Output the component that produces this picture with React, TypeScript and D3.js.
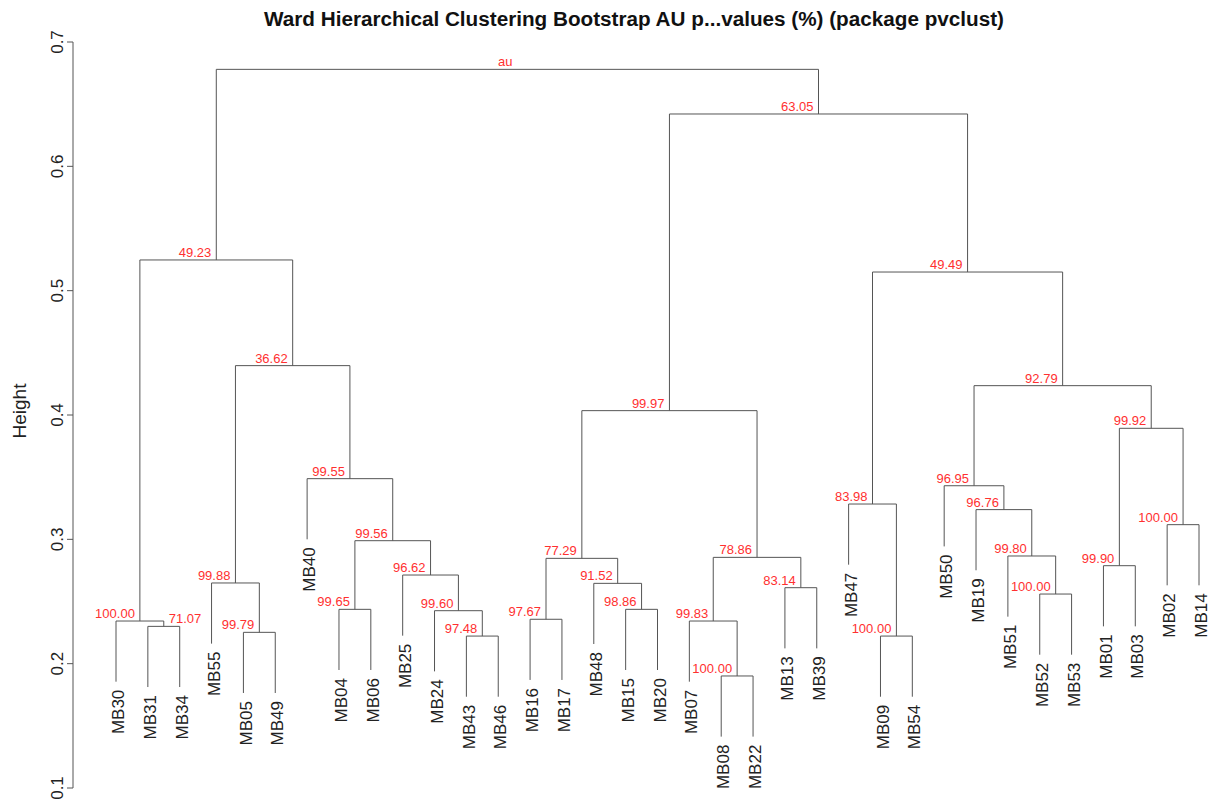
import React from "react";
import * as d3 from "d3";

// Leaf labels in dendrogram order (left to right)
const leafLabels = [
  "MB30", "MB31", "MB34", "MB55", "MB05", "MB49", "MB40", "MB04", "MB06", "MB25",
  "MB24", "MB43", "MB46", "MB16", "MB17", "MB48", "MB15", "MB20", "MB07", "MB08",
  "MB22", "MB13", "MB39", "MB47", "MB09", "MB54", "MB50", "MB19", "MB51", "MB52",
  "MB53", "MB01", "MB03", "MB02", "MB14",
];

// Merge table (hclust-style): negative = leaf position (1-based), positive = merge id (1-based)
const mergeLeft = [
  -2, -1, -5, -4, -12, -11, -10, -8, 8, -7, 4, 2,
  -14, -17, -16, 13, -20, -19, -22, 18, 16,
  -25, -24, -30, -29, -28, -27, -32, -34, 28, 27, 23, 21, 12,
];
const mergeRight = [
  -3, 1, -6, 3, -13, 5, 6, -9, 7, 9, 10, 11,
  -15, -18, 14, 15, -21, 17, -23, 19, 20,
  -26, 22, -31, 24, 25, 26, -33, -35, 29, 30, 31, 32, 33,
];
const mergeHeight = [
  0.230, 0.2343, 0.2252, 0.2649, 0.2222, 0.2426, 0.2713, 0.2437, 0.2989, 0.3488, 0.4397, 0.5247,
  0.2357, 0.2437, 0.2646, 0.2847, 0.1901, 0.2343, 0.2611, 0.2855, 0.4035,
  0.2222, 0.3284, 0.256, 0.2866, 0.3239, 0.3431, 0.2788, 0.3118, 0.3893, 0.4236, 0.515, 0.6421, 0.678,
];
const auLabels = [
  "71.07", "100.00", "99.79", "99.88", "97.48", "99.60", "96.62", "99.65", "99.56", "99.55", "36.62", "49.23",
  "97.67", "98.86", "91.52", "77.29", "100.00", "99.83", "83.14", "78.86", "99.97",
  "100.00", "83.98", "100.00", "99.80", "96.76", "96.95", "99.90", "100.00", "99.92", "92.79", "49.49", "63.05", "au",
];

const yTicks = [0.1, 0.2, 0.3, 0.4, 0.5, 0.6, 0.7];
const title = "Ward Hierarchical Clustering Bootstrap AU p...values (%) (package pvclust)";
const yLabel = "Height";

const W = 1218;
const H = 805;
const FONT = "'Liberation Sans', Arial, Helvetica, sans-serif";
const LINE = "#555";
const AU_FS = 13;

export default function App() {
  const n = leafLabels.length;
  const x = d3.scaleLinear().domain([1, n]).range([116, 1199]);
  const y = d3.scaleLinear().domain([0.1, 0.7]).range([788, 42]);
  const hang = 0.1 * ((d3.max(mergeHeight) as number) - (d3.min(mergeHeight) as number));

  const mergeX: number[] = [];
  const childX = (c: number) => (c < 0 ? -c : mergeX[c - 1]);
  mergeLeft.forEach((l, i) => {
    mergeX[i] = (childX(l) + childX(mergeRight[i])) / 2;
  });

  const segs: { x1: number; y1: number; x2: number; y2: number }[] = [];
  const leaves: { pos: number; top: number }[] = [];
  mergeLeft.forEach((l, i) => {
    const h = mergeHeight[i];
    [l, mergeRight[i]].forEach((c) => {
      const cx = childX(c);
      const ch = c < 0 ? h - hang : mergeHeight[c - 1];
      segs.push({ x1: x(cx), y1: y(h), x2: x(cx), y2: y(ch) });
      if (c < 0) leaves.push({ pos: -c, top: ch });
    });
    segs.push({ x1: x(childX(l)), y1: y(h), x2: x(childX(mergeRight[i])), y2: y(h) });
  });

  // place AU labels left of the node; move to the right side if it would collide
  const estW = (s: string) => s.length * AU_FS * 0.54;
  const placed: { x0: number; x1: number; y0: number; y1: number }[] = [];
  const auPos = auLabels.map((a, i) => ({ a, i, px: x(mergeX[i]), py: y(mergeHeight[i]) - 3 }));
  const order = [...auPos].sort((p, q) => p.py - q.py);
  const result: Record<number, { x: number; y: number; anchor: string }> = {};
  order.forEach((p) => {
    const w = estW(p.a);
    let box = { x0: p.px - 5 - w, x1: p.px - 5, y0: p.py - 10, y1: p.py };
    let anchor = "end";
    let tx = p.px - 5;
    const hit = (b: typeof box) => placed.some((o) => b.x0 < o.x1 && b.x1 > o.x0 && b.y0 < o.y1 && b.y1 > o.y0);
    if (hit(box)) {
      box = { x0: p.px + 5, x1: p.px + 5 + w, y0: p.py - 10, y1: p.py };
      anchor = "start";
      tx = p.px + 5;
    }
    placed.push(box);
    result[p.i] = { x: tx, y: p.py, anchor };
  });

  return (
    <svg
      width={W}
      height={H}
      style={{ position: "absolute", left: 0, top: 0, background: "#fff" }}
      fontFamily={FONT}
    >
      <rect width={W} height={H} fill="#fff" />
      <text x={634} y={26} textAnchor="middle" fontWeight="bold" fontSize={20.7} fill="#111">
        {title}
      </text>
      {/* y axis */}
      <line x1={73} x2={73} y1={y(0.1)} y2={y(0.7)} stroke={LINE} strokeWidth={1} />
      {yTicks.map((t) => (
        <g key={t}>
          <line x1={67} x2={73} y1={y(t)} y2={y(t)} stroke={LINE} strokeWidth={1} />
          <text
            transform={`translate(57,${y(t)}) rotate(-90)`}
            textAnchor="middle"
            dy="0.36em"
            fontSize={17}
            fill="#222"
          >
            {t.toFixed(1)}
          </text>
        </g>
      ))}
      <text
        transform={`translate(19,411) rotate(-90)`}
        textAnchor="middle"
        dy="0.36em"
        fontSize={19}
        fill="#222"
      >
        {yLabel}
      </text>
      {/* dendrogram */}
      {segs.map((s, i) => (
        <line key={i} x1={s.x1} y1={s.y1} x2={s.x2} y2={s.y2} stroke={LINE} strokeWidth={1} />
      ))}
      {leaves.map((lf) => (
        <text
          key={lf.pos}
          transform={`translate(${x(lf.pos) + 2},${y(lf.top) + 8}) rotate(-90)`}
          textAnchor="end"
          dy="0.36em"
          fontSize={17}
          fill="#222"
        >
          {leafLabels[lf.pos - 1]}
        </text>
      ))}
      {auLabels.map((a, i) => (
        <text
          key={i}
          x={result[i].x}
          y={result[i].y}
          textAnchor={result[i].anchor as any}
          fontSize={AU_FS}
          fill="#ff3030"
        >
          {a}
        </text>
      ))}
    </svg>
  );
}
